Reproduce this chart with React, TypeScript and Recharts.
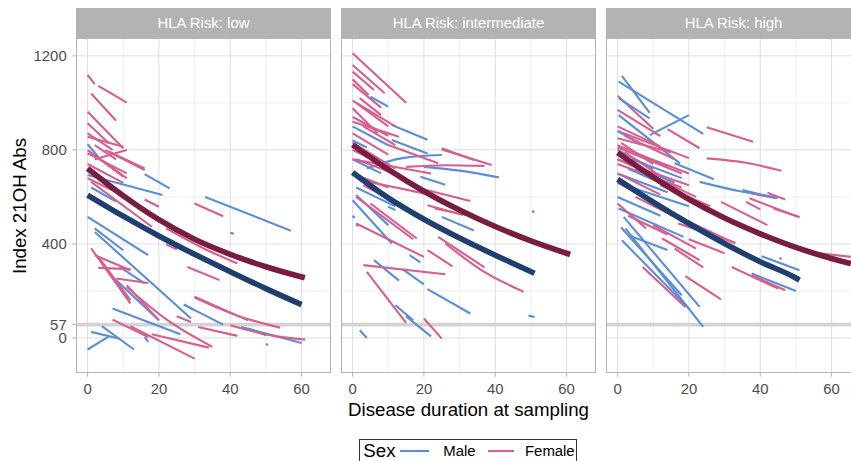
import React from 'react';
import { LineChart, Line, XAxis, YAxis, CartesianGrid, ReferenceLine } from 'recharts';

type Seg = [number, number][];

const panelTitles = ['HLA Risk: low', 'HLA Risk: intermediate', 'HLA Risk: high'];
const xTicks = [0, 20, 40, 60];
const xMinor = [10, 30, 50];
const yTicks = [0, 57, 400, 800, 1200];
const yMinor = [200, 600, 1000];
const threshold = 57;
const sexLabels = ['Male', 'Female'];

const lowMale: Seg[] = [
  [[0, 824], [3, 770]], [[0, 720], [6, 650]], [[1, 640], [8, 580]], [[16, 697], [23, 636]],
  [[0, 693], [21, 608]], [[33, 600], [57, 456]], [[40, 447], [41, 443]], [[0, 515], [17, 352]],
  [[2, 466], [10, 373]], [[2, 451], [29, 83]], [[9, 302], [16, 232]], [[8, 246], [20, 75]],
  [[27, 143], [30, 118]], [[7, 125], [26, 16]], [[27, 142], [38, 57]], [[45, 40], [50, 12]],
  [[43, 47], [60, -21]], [[50, -26], [50.6, -30]], [[16, 4], [17, -17]], [[0, -49], [6, 7]],
  [[1, 26], [9, -3]], [[4, 50], [13, -49]],
];
const lowFemale: Seg[] = [
  [[0, 1119], [2, 1080]], [[3, 1072], [11, 1001]], [[1, 1040], [8, 924]], [[0, 962], [10, 807]],
  [[0, 913], [6, 828]], [[0, 870], [7, 800]], [[0, 856], [10, 813]], [[2, 760], [11, 800]],
  [[0, 785], [11, 700]], [[6, 792], [16, 721]], [[0, 799], [10, 686]], [[5, 799], [16, 714]],
  [[4, 757], [11, 679]], [[1, 664], [18, 473]], [[0, 720], [14, 560]], [[0, 680], [12, 590]],
  [[0, 740], [10, 660]], [[2, 820], [8, 760]],
  [[16, 589], [20, 558]], [[30, 572], [38, 518]], [[22, 398], [25, 377]], [[22, 466], [32, 385], [42, 317]],
  [[28, 302], [37, 246]], [[1, 381], [12, 147]], [[2, 352], [12, 288]], [[3, 298], [12, 293]],
  [[8, 253], [17, 234]], [[3, 345], [12, 161]], [[11, 217], [22, 80], [35, -38]], [[12, 50], [30, -88]],
  [[18, 16], [34, -41]], [[30, 172], [42, 95], [54, 44]], [[25, 92], [29, 68]], [[40, 54], [50, 15], [61, -7]],
  [[31, 47], [42, 9]], [[7, 78], [17, 4]], [[11, 224], [20, 75]], [[30, 175], [45, 75]],
];
const intMale: Seg[] = [
  [[0, 840], [4, 810]], [[5, 1026], [10, 984]], [[11, 906], [21, 843]], [[11, 842], [21, 785]],
  [[4, 721], [14, 765], [25, 778]], [[20, 728], [30, 712], [41, 683]], [[19, 686], [26, 652]],
  [[0, 760], [8, 700]], [[1, 640], [12, 560]], [[0, 900], [10, 820]], [[25, 515], [34, 457]], [[50.3, 540], [51, 535]],
  [[0, 586], [11, 402]], [[1, 608], [10, 480]], [[10, 558], [12, 544]], [[0, 520], [0.6, 510]],
  [[1, 482], [1.5, 476]], [[6, 331], [13, 244]], [[14, 293], [20, 228]], [[16, 352], [19, 322]],
  [[21, 208], [33, 104]], [[12, 139], [17, 75]], [[15, 92], [22, 7]], [[2, 33], [4, 0]],
  [[49.3, 95], [51, 89]],
];
const intFemale: Seg[] = [
  [[0, 1211], [15, 1001]], [[0, 1161], [9, 1041]], [[0, 1133], [6, 1055]], [[0, 1100], [4.5, 1034]],
  [[0, 1080], [8, 980]], [[0, 1010], [12, 900]], [[3, 900], [12, 820]],
  [[2, 1020], [8, 948]], [[0, 977], [7, 871]], [[1, 1000], [10, 900]], [[0, 940], [10, 860]],
  [[0, 920], [13, 856]], [[0, 870], [10, 780]], [[0, 830], [12, 720]], [[0, 800], [8, 740]],
  [[1, 760], [15, 680]], [[0, 760], [22, 700]], [[0, 700], [10, 640]], [[3, 650], [14, 560]],
  [[25, 807], [34, 757]], [[25, 802], [39, 736]], [[15, 728], [26, 735], [37, 732]], [[10, 821], [24, 743]],
  [[2, 672], [20, 615]], [[17, 643], [33, 583]], [[21, 565], [31, 523]], [[23, 551], [32, 523]],
  [[1, 600], [17, 420]], [[1, 487], [20, 345]], [[5, 572], [18, 423]], [[21, 374], [28, 305]],
  [[24, 430], [37, 300]], [[26, 402], [36, 290], [48, 196]], [[3, 310], [26, 271]], [[4, 281], [15, 64]],
  [[20, 83], [25, -3]],
];
const highMale: Seg[] = [
  [[1.2, 1115], [9, 958]], [[0.3, 1090], [24, 868]], [[9, 863], [20, 948]], [[0.3, 1020], [9, 934]],
  [[0.3, 948], [17.5, 743]], [[23, 664], [34, 625], [45, 598]], [[16, 743], [27, 675]], [[0, 880], [6, 830]],
  [[0, 800], [10, 720]], [[4, 760], [18, 680]], [[0, 700], [14, 620]], [[2, 650], [20, 560]],
  [[0, 760], [16, 660]], [[3, 720], [12, 660]],
  [[0, 600], [12, 520]], [[0.3, 551], [18.5, 430]], [[3, 437], [14, 374]], [[1.2, 416], [20, 125]],
  [[1.7, 515], [23, 132]], [[1, 470], [18, 182]], [[2.2, 466], [24, 47]], [[37.6, 274], [50, 200]],
  [[40.4, 348], [51, 288]], [[35, 629], [44.6, 594]],
];
const highFemale: Seg[] = [
  [[0, 1030], [10, 890]], [[0, 970], [12, 859]], [[14, 888], [23, 807]], [[25, 896], [38, 835]],
  [[25, 764], [36, 745], [46, 711]], [[0, 900], [12, 815]], [[0, 880], [20, 765]], [[0, 850], [15, 790]],
  [[0, 820], [14, 730]], [[2, 860], [16, 760]], [[0, 740], [18, 640]], [[6, 780], [20, 700]],
  [[1, 830], [10, 740]], [[0, 810], [18, 700]], [[2, 790], [12, 690]], [[0, 760], [9, 700]],
  [[3, 740], [20, 650]], [[5, 720], [16, 640]], [[0, 700], [12, 610]], [[8, 700], [22, 600]],
  [[0, 660], [10, 580]], [[12, 650], [26, 560]], [[37.6, 615], [44.6, 594]], [[42, 618], [47, 589]],
  [[36, 579], [40, 547]], [[37, 594], [51, 513]], [[29, 579], [42, 480]], [[0, 572], [8, 466]],
  [[5, 600], [18, 500]], [[3, 520], [14, 440]], [[10, 480], [22, 380]], [[20, 420], [30, 360]],
  [[16, 380], [24, 300]], [[7, 302], [19, 132]], [[19, 263], [29, 164]], [[12.5, 423], [23, 331]],
  [[14, 537], [33, 402]], [[17, 487], [33, 405]], [[32, 302], [45, 210]], [[37.6, 267], [47, 203]],
  [[45.4, 340], [46, 336]], [[43.7, 551], [51, 515]], [[53.5, 366], [65.4, 345]],
];

const lowFitMale: Seg = [[0, 608], [10, 518], [20, 434], [30, 356], [40, 282], [50, 210], [60, 142]];
const lowFitFemale: Seg = [[0, 721], [10, 605], [20, 503], [30, 420], [40, 356], [50, 303], [60.9, 256]];
const intFitMale: Seg = [[0, 704], [10, 596], [20, 505], [30, 425], [40, 352], [51, 275]];
const intFitFemale: Seg = [[0, 822], [10, 717], [20, 624], [30, 544], [40, 474], [50, 413], [61, 355]];
const highFitMale: Seg = [[0, 675], [10, 578], [20, 487], [30, 402], [40, 324], [50, 255], [51, 246]];
const highFitFemale: Seg = [[0, 788], [10, 684], [20, 590], [30, 510], [40, 443], [50, 385], [60, 338], [65.4, 316]];

const COL_M = '#5a8ed8';
const COL_F = '#d65f8e';
const COL_FIT_M = '#1e3f70';
const COL_FIT_F = '#781c42';
const FONT = '"Liberation Sans", Arial, Helvetica, sans-serif';

const PW = 255;
const PH = 335;
const TOP = 38;
const XH = 30;
const YW = 76;
const panelLefts = [76, 341, 606];

const toPts = (s: Seg) => s.map(([x, y]) => ({ x, y }));

type PanelProps = {
  idx: number;
  male: Seg[];
  female: Seg[];
  fitM: Seg;
  fitF: Seg;
};

function Panel({ idx, male, female, fitM, fitF }: PanelProps) {
  const showY = idx === 0;
  const left = panelLefts[idx];
  const width = showY ? PW + YW : PW;
  const n = Math.max(male.length, female.length);
  const items: { seg: Seg; color: string; key: string }[] = [];
  for (let i = 0; i < n; i++) {
    if (i < female.length) items.push({ seg: female[i], color: COL_F, key: 'f' + i });
    if (i < male.length) items.push({ seg: male[i], color: COL_M, key: 'm' + i });
  }
  return (
    <>
      <div
        style={{
          position: 'absolute', left, top: 8, width: PW, height: TOP - 8, background: '#b3b3b3',
          color: '#ffffff', fontSize: 14.9, display: 'flex', alignItems: 'center', justifyContent: 'center',
          fontFamily: FONT,
        }}
      >
        {panelTitles[idx]}
      </div>
      <div style={{ position: 'absolute', left: showY ? left - YW : left, top: 0 }}>
        <LineChart width={width} height={TOP + PH + XH} margin={{ top: TOP, right: 0, bottom: 0, left: 0 }}>
          <CartesianGrid horizontalValues={yMinor} verticalValues={xMinor} stroke="#e8e8e8" strokeWidth={0.7} />
          <CartesianGrid horizontalValues={yTicks} verticalValues={xTicks} stroke="#dedede" strokeWidth={1} />
          <XAxis
            type="number" dataKey="x" domain={[-3.25, 68.25]} ticks={xTicks} allowDataOverflow interval={0}
            tickSize={3.7} tickMargin={6.4} axisLine={false} tickLine={{ stroke: '#b3b3b3' }}
            tick={{ fill: '#4d4d4d', fontSize: 14.9 }} height={XH}
          />
          <YAxis
            type="number" dataKey="y" domain={[-149, 1276]} ticks={yTicks} allowDataOverflow interval={0}
            hide={!showY} width={YW} tickSize={3.7} tickMargin={5.6} axisLine={false}
            tickLine={{ stroke: '#b3b3b3' }} tick={{ fill: '#4d4d4d', fontSize: 14.9 }}
          />
          <ReferenceLine y={threshold} stroke="#d3d3d3" strokeWidth={3.8} />
          {items.map((it) => (
            <Line
              key={it.key} data={toPts(it.seg)} dataKey="y" type="monotone" stroke={it.color}
              strokeWidth={2.1} dot={false} activeDot={false} isAnimationActive={false} legendType="none"
            />
          ))}
          <Line data={toPts(fitF)} dataKey="y" type="monotone" stroke={COL_FIT_F} strokeWidth={5.6}
            dot={false} activeDot={false} isAnimationActive={false} legendType="none" />
          <Line data={toPts(fitM)} dataKey="y" type="monotone" stroke={COL_FIT_M} strokeWidth={5.6}
            dot={false} activeDot={false} isAnimationActive={false} legendType="none" />
        </LineChart>
      </div>
      <div
        style={{
          position: 'absolute', left, top: TOP, width: PW, height: PH, border: '1px solid #b3b3b3',
          boxSizing: 'border-box', pointerEvents: 'none',
        }}
      />
    </>
  );
}

export default function App() {
  return (
    <div
      style={{
        position: 'fixed', left: 0, top: 0, width: 851, height: 461, overflow: 'hidden',
        background: '#ffffff', fontFamily: FONT,
      }}
    >
      <Panel idx={0} male={lowMale} female={lowFemale} fitM={lowFitMale} fitF={lowFitFemale} />
      <Panel idx={1} male={intMale} female={intFemale} fitM={intFitMale} fitF={intFitFemale} />
      <Panel idx={2} male={highMale} female={highFemale} fitM={highFitMale} fitF={highFitFemale} />
      <svg width={851} height={461} style={{ position: 'absolute', left: 0, top: 0, pointerEvents: 'none' }}>
        <text x={19.5} y={206} transform="rotate(-90 19.5 206)" textAnchor="middle" dominantBaseline="central"
          fontSize={18.7} fill="#000">Index 21OH Abs</text>
        <text x={468.5} y={415.5} textAnchor="middle" fontSize={18.7} fill="#000">Disease duration at sampling</text>
        <rect x={359.5} y={439.5} width={217} height={40} fill="none" stroke="#333" strokeWidth={1} />
        <text x={363.3} y={457.3} fontSize={18.7} fill="#000">Sex</text>
        <line x1={400} x2={429} y1={451} y2={451} stroke={COL_M} strokeWidth={2.1} />
        <text x={443.3} y={456.3} fontSize={14.9} fill="#000">{sexLabels[0]}</text>
        <line x1={488} x2={514} y1={451} y2={451} stroke={COL_F} strokeWidth={2.1} />
        <text x={525} y={456.3} fontSize={14.9} fill="#000">{sexLabels[1]}</text>
      </svg>
    </div>
  );
}
